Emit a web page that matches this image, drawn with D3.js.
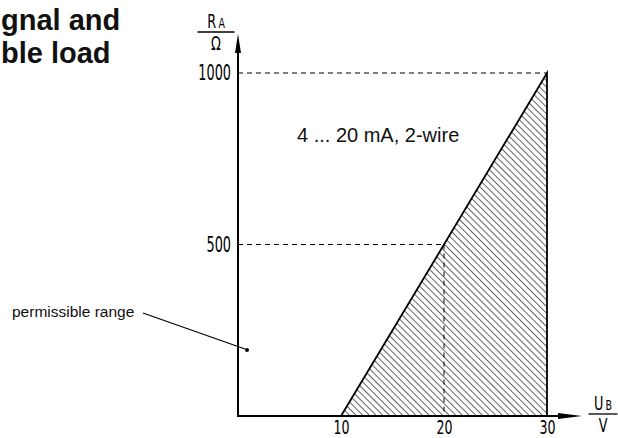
<!DOCTYPE html>
<html>
<head>
<meta charset="utf-8">
<script src="https://cdn.jsdelivr.net/npm/d3@7"></script>
<style>
  body { margin: 0; background: #fff; }
  svg { display: block; }
</style>
</head>
<body>
<div id="chart"></div>
<script>
// Chart data
const xTicks = [10, 20, 30];               // U_B / V
const yTicks = [500, 1000];                // R_A / Ohm
const loadLine = [[10, 0], [30, 1000]];    // max load line, 4 ... 20 mA
const refPoints = [[20, 500], [30, 1000]]; // dashed helper lines
const titleLines = ["gnal and", "ble load"]; // visible part of the (clipped) title
const areaLabel = "4 ... 20 mA, 2-wire";
const rangeLabel = "permissible range";

const width = 618, height = 438;

const svg = d3.select('#chart')
    .append('svg')
    .attr('width', width)
    .attr('height', height);

const x = d3.scaleLinear().domain([0, 30]).range([238, 547]);
const y = d3.scaleLinear().domain([0, 1000]).range([416, 73]);

const narrow = '"Liberation Sans Narrow", "DejaVu Sans Condensed", sans-serif';
const sans = '"Liberation Sans", Arial, sans-serif';

// Hatch pattern
svg.append('defs').append('pattern')
    .attr('id', 'hatch')
    .attr('patternUnits', 'userSpaceOnUse')
    .attr('width', 4.7)
    .attr('height', 4.7)
    .attr('patternTransform', 'rotate(-45)')
    .append('line')
    .attr('x1', 0).attr('y1', 0)
    .attr('x2', 0).attr('y2', 4.7)
    .attr('stroke', '#000')
    .attr('stroke-width', 1.2);

const line = d3.line().x(d => x(d[0])).y(d => y(d[1]));

// Shaded area: below load line up to U_B max
const areaPts = [[loadLine[0][0], 0], loadLine[1], [loadLine[1][0], 0]];
svg.append('path')
    .attr('d', line(areaPts) + 'Z')
    .attr('fill', 'url(#hatch)');

// Dashed helper lines
refPoints.forEach(p => {
    svg.append('line')
        .attr('x1', x(0)).attr('x2', x(p[0]))
        .attr('y1', y(p[1])).attr('y2', y(p[1]))
        .attr('stroke', '#000').attr('stroke-width', 1)
        .attr('stroke-dasharray', '5,4');
});
svg.append('line')
    .attr('x1', x(refPoints[0][0])).attr('x2', x(refPoints[0][0]))
    .attr('y1', y(refPoints[0][1])).attr('y2', y(0))
    .attr('stroke', '#000').attr('stroke-width', 1)
    .attr('stroke-dasharray', '5,4');

// Load line + right border
svg.append('path')
    .attr('d', line([loadLine[0], loadLine[1], [loadLine[1][0], 0]]))
    .attr('fill', 'none')
    .attr('stroke', '#000')
    .attr('stroke-width', 1.8);

// Axes lines with arrows
svg.append('line')
    .attr('x1', x(0)).attr('x2', x(0))
    .attr('y1', y(0) + 1).attr('y2', 50)
    .attr('stroke', '#000').attr('stroke-width', 2);
svg.append('path')
    .attr('d', `M${x(0) - 3},53 L${x(0)},34 L${x(0) + 3},53 Z`)
    .attr('fill', '#000');

svg.append('line')
    .attr('x1', x(0) - 1).attr('x2', 562)
    .attr('y1', y(0)).attr('y2', y(0))
    .attr('stroke', '#000').attr('stroke-width', 2);
svg.append('path')
    .attr('d', `M558,${y(0) - 3} L582,${y(0)} L558,${y(0) + 3} Z`)
    .attr('fill', '#000');

// Tick labels through d3 axes (no tick marks, no domain)
const xAxis = svg.append('g')
    .attr('transform', `translate(0,${y(0)})`)
    .call(d3.axisBottom(x).tickValues(xTicks).tickSize(0).tickPadding(4).tickFormat(d3.format('d')));
xAxis.select('.domain').remove();
xAxis.selectAll('text')
    .attr('font-family', narrow)
    .attr('font-size', 20)
    .attr('fill', '#000')
    .attr('dy', '0.7em')
    .style('transform-box', 'fill-box')
    .style('transform-origin', 'center')
    .style('transform', 'scaleX(0.7)');

const yAxis = svg.append('g')
    .attr('transform', `translate(${x(0)},0)`)
    .call(d3.axisLeft(y).tickValues(yTicks).tickSize(0).tickPadding(7).tickFormat(d3.format('d')));
yAxis.select('.domain').remove();
yAxis.selectAll('text')
    .attr('font-family', narrow)
    .attr('font-size', 21)
    .attr('fill', '#000')
    .style('transform-box', 'fill-box')
    .style('transform-origin', 'right center')
    .style('transform', 'scaleX(0.68)');

// Axis unit labels (fractions)
function fracLabel(cx, barY, main, sub, unit, barW) {
    const g = svg.append('g');
    const t = g.append('text')
        .attr('x', cx).attr('y', barY - 4)
        .attr('text-anchor', 'middle')
        .attr('font-family', narrow)
        .attr('font-size', 19)
        .style('transform-box', 'fill-box')
        .style('transform-origin', 'center')
        .style('transform', 'scaleX(0.75)');
    t.append('tspan').text(main);
    t.append('tspan').attr('font-size', 14).attr('dx', 3).text(sub);
    g.append('line')
        .attr('x1', cx - barW / 2).attr('x2', cx + barW / 2)
        .attr('y1', barY).attr('y2', barY)
        .attr('stroke', '#000').attr('stroke-width', 1.3);
    g.append('text')
        .attr('x', cx).attr('y', barY + 18)
        .attr('text-anchor', 'middle')
        .attr('font-family', narrow)
        .attr('font-size', 19)
        .style('transform-box', 'fill-box')
        .style('transform-origin', 'center')
        .style('transform', 'scaleX(0.75)')
        .text(unit);
}
fracLabel(216, 32, 'R', 'A', 'Ω', 37);
fracLabel(603, 414, 'U', 'B', 'V', 29);

// Title (left part cut off in the source)
svg.append('g').selectAll('text')
    .data(titleLines)
    .join('text')
    .attr('x', 1)
    .attr('y', (d, i) => 30 + i * 32.5)
    .attr('font-family', sans)
    .attr('font-weight', 'bold')
    .attr('font-size', 29)
    .attr('fill', '#111')
    .text(d => d);

// Area label
svg.append('text')
    .attr('x', 297).attr('y', 142)
    .attr('font-family', sans)
    .attr('font-size', 20)
    .attr('fill', '#111')
    .text(areaLabel);

// Permissible range annotation
svg.append('text')
    .attr('x', 12).attr('y', 317)
    .attr('font-family', sans)
    .attr('font-size', 15.5)
    .attr('fill', '#111')
    .text(rangeLabel);
svg.append('line')
    .attr('x1', 143).attr('y1', 313)
    .attr('x2', 245).attr('y2', 349)
    .attr('stroke', '#000').attr('stroke-width', 1.2);
svg.append('circle')
    .attr('cx', 247).attr('cy', 350).attr('r', 2)
    .attr('fill', '#000');
</script>
</body>
</html>
